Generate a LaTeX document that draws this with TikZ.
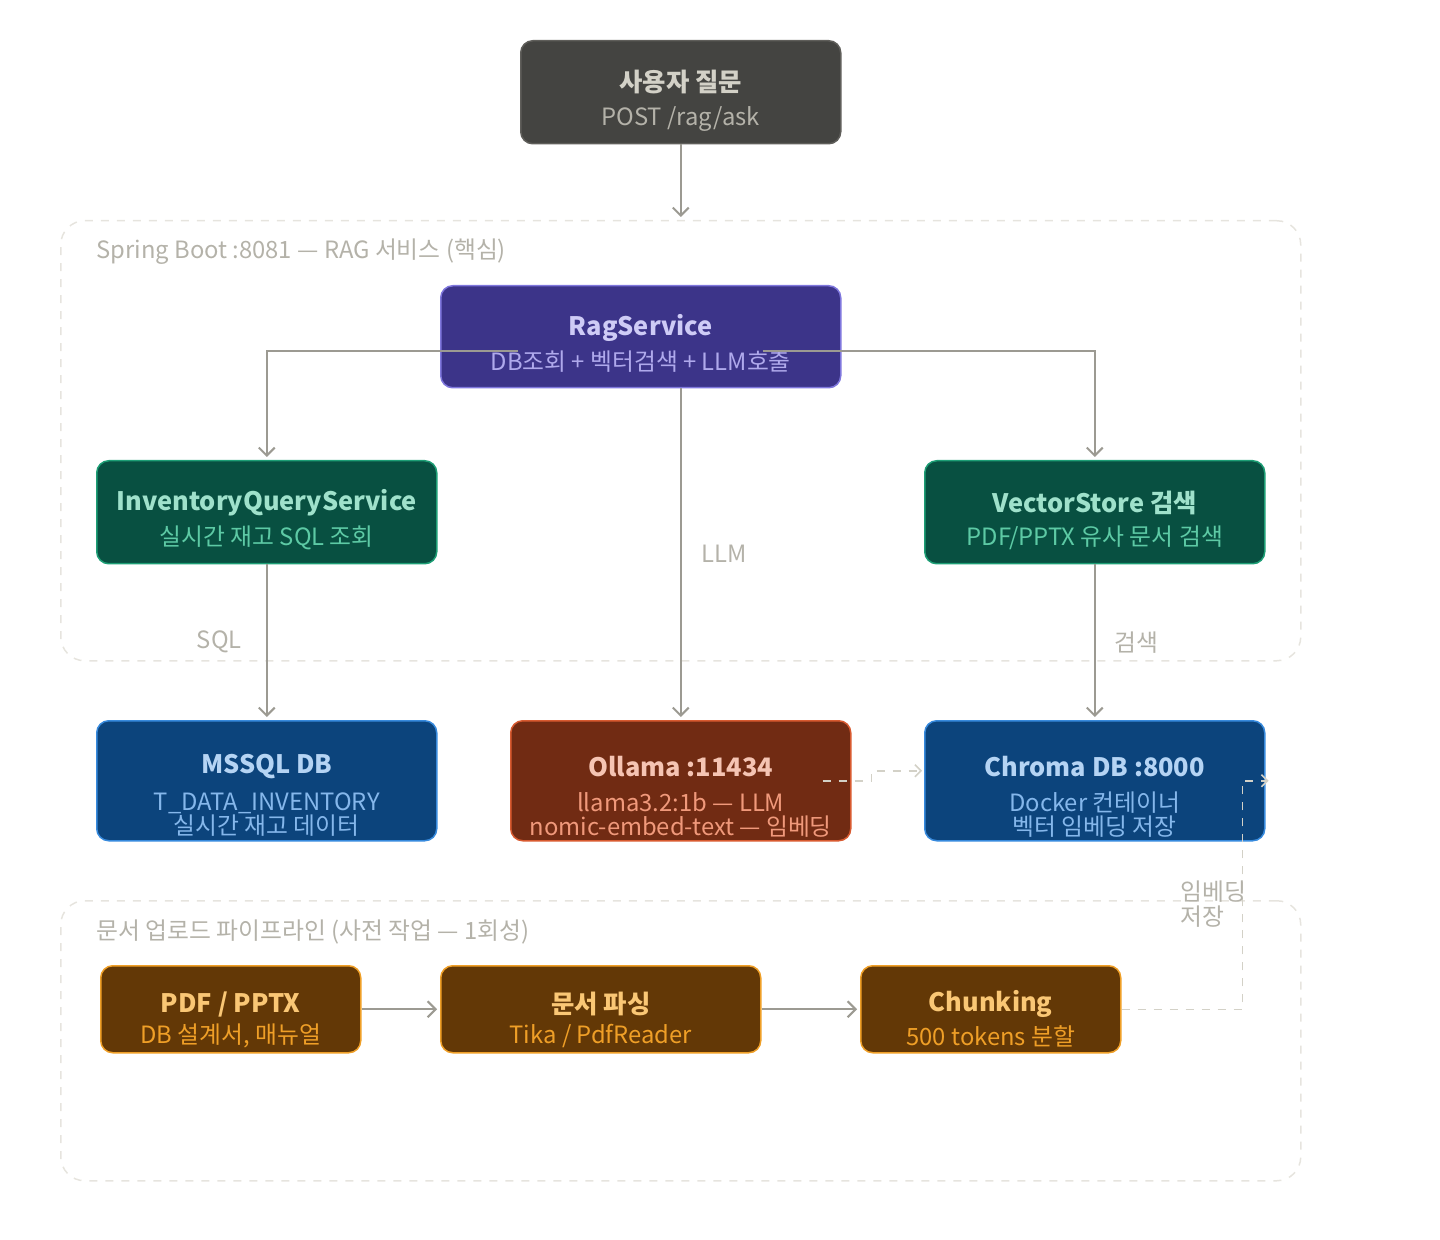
\documentclass[tikz,border=0pt]{standalone}
\usepackage{fontspec}
\setmainfont{Noto Sans CJK KR}
\usetikzlibrary{arrows.meta,calc}
\definecolor{userF}{HTML}{444441}
\definecolor{userD}{HTML}{5F5E5A}
\definecolor{userT}{HTML}{D3D1C7}
\definecolor{userS}{HTML}{B4B2A9}
\definecolor{ragF}{HTML}{3C3489}
\definecolor{ragD}{HTML}{7F77DD}
\definecolor{ragT}{HTML}{CECBF6}
\definecolor{ragS}{HTML}{AFA9EC}
\definecolor{grnF}{HTML}{085041}
\definecolor{grnD}{HTML}{1D9E75}
\definecolor{grnT}{HTML}{9FE1CB}
\definecolor{grnS}{HTML}{5DCAA5}
\definecolor{bluF}{HTML}{0C447C}
\definecolor{bluD}{HTML}{378ADD}
\definecolor{bluT}{HTML}{B5D4F4}
\definecolor{bluS}{HTML}{85B7EB}
\definecolor{redF}{HTML}{712B13}
\definecolor{redD}{HTML}{D85A30}
\definecolor{redT}{HTML}{F5C4B3}
\definecolor{redS}{HTML}{F0997B}
\definecolor{brnF}{HTML}{633806}
\definecolor{brnD}{HTML}{EF9F27}
\definecolor{brnT}{HTML}{FAC775}
\definecolor{brnS}{HTML}{EF9F27}
\definecolor{lineC}{HTML}{9C9A92}
\definecolor{lblC}{HTML}{B4B2A9}
\definecolor{contC}{HTML}{E6E4DE}
\definecolor{dashC}{HTML}{D3D1C7}
\begin{document}
\begin{tikzpicture}[x=0.5pt,y=-0.5pt,
  box/.style={draw, rounded corners=6pt, line width=0.75pt, anchor=north west, inner sep=0pt},
  cont/.style={draw=contC, dash pattern=on 4pt off 4pt, line width=0.75pt, rounded corners=12pt, anchor=north west, inner sep=0pt, minimum width=620pt},
  ttl/.style={font=\bfseries\fontsize{12.7}{15}\selectfont, inner sep=0pt, anchor=center},
  sub/.style={font=\fontsize{11.9}{12}\selectfont, inner sep=0pt, anchor=center, align=center},
  lbl/.style={font=\fontsize{11.9}{13}\selectfont, text=lblC, inner sep=0pt},
  conn/.style={draw=lineC, line width=1pt, -{Straight Barb[length=4pt,width=8pt]}, shorten >=1.5pt},
  dconn/.style={draw=dashC, line width=0.75pt, dash pattern=on 4pt off 4pt, -{Straight Barb[length=3pt,width=6pt]}}
]
\useasboundingbox (0,0) rectangle (1440,1240);

% containers
\node[cont, minimum height=220pt] (spring) at (60,220) {};
\node[lbl, anchor=west] (springL) at ($(spring.north west)+(36,32)$) {Spring Boot :8081 — RAG 서비스 (핵심)};
\node[cont, minimum height=140pt] (upload) at (60,900) {};
\node[lbl, anchor=west] (uploadL) at ($(upload.north west)+(36,32)$) {문서 업로드 파이프라인 (사전 작업 — 1회성)};

% boxes
\node[box, fill=userF, draw=userD, minimum width=160pt, minimum height=51.5pt] (user) at (520,40) {};
\node[ttl, text=userT] (userA) at ($(user.north)+(0,42)$) {사용자 질문};
\node[sub, text=userS] (userB) at ($(user.north)+(0,79)$) {POST /rag/ask};

\node[box, fill=ragF, draw=ragD, minimum width=200pt, minimum height=51pt] (rag) at (440,285) {};
\node[ttl, text=ragT] (ragA) at ($(rag.north)+(0,43)$) {RagService};
\node[sub, text=ragS] (ragB) at ($(rag.north)+(0,77)$) {DB조회 + 벡터검색 + LLM호출};

\node[box, fill=grnF, draw=grnD, minimum width=170pt, minimum height=51.5pt] (inv) at (96,460) {};
\node[ttl, text=grnT] (invA) at ($(inv.north)+(0,43)$) {InventoryQueryService};
\node[sub, text=grnS] (invB) at ($(inv.north)+(0,78)$) {실시간 재고 SQL 조회};

\node[box, fill=grnF, draw=grnD, minimum width=170pt, minimum height=51.5pt] (vec) at (924,460) {};
\node[ttl, text=grnT] (vecA) at ($(vec.north)+(0,43)$) {VectorStore 검색};
\node[sub, text=grnS] (vecB) at ($(vec.north)+(0,78)$) {PDF/PPTX 유사 문서 검색};

\node[box, fill=bluF, draw=bluD, minimum width=170pt, minimum height=60pt] (mssql) at (96,720) {};
\node[ttl, text=bluT] (mssqlA) at ($(mssql.north)+(0,47)$) {MSSQL DB};
\node[sub, text=bluS] (mssqlB) at ($(mssql.north)+(0,95)$) {T\_DATA\_INVENTORY\\실시간 재고 데이터};

\node[box, fill=redF, draw=redD, minimum width=170pt, minimum height=60pt] (ollama) at (510,720) {};
\node[ttl, text=redT] (ollamaA) at ($(ollama.north)+(0,47)$) {Ollama :11434};
\node[sub, text=redS] (ollamaB) at ($(ollama.north)+(0,95)$) {llama3.2:1b — LLM\\nomic-embed-text — 임베딩};

\node[box, fill=bluF, draw=bluD, minimum width=170pt, minimum height=60pt] (chroma) at (924,720) {};
\node[ttl, text=bluT] (chromaA) at ($(chroma.north)+(0,47)$) {Chroma DB :8000};
\node[sub, text=bluS] (chromaB) at ($(chroma.north)+(0,95)$) {Docker 컨테이너\\벡터 임베딩 저장};

\node[box, fill=brnF, draw=brnD, minimum width=130pt, minimum height=43.5pt] (pdf) at (100,965) {};
\node[ttl, text=brnT] (pdfA) at ($(pdf.north)+(0,39)$) {PDF / PPTX};
\node[sub, text=brnS] (pdfB) at ($(pdf.north)+(0,71)$) {DB 설계서, 매뉴얼};

\node[box, fill=brnF, draw=brnD, minimum width=160pt, minimum height=43.5pt] (parse) at (440,965) {};
\node[ttl, text=brnT] (parseA) at ($(parse.north)+(0,39)$) {문서 파싱};
\node[sub, text=brnS] (parseB) at ($(parse.north)+(0,71)$) {Tika / PdfReader};

\node[box, fill=brnF, draw=brnD, minimum width=130pt, minimum height=43.5pt] (chunk) at (860,965) {};
\node[ttl, text=brnT] (chunkA) at ($(chunk.north)+(0,39)$) {Chunking};
\node[sub, text=brnS] (chunkB) at ($(chunk.north)+(0,71)$) {500 tokens 분할};

% connectors
\draw[conn] (user.south) -- (spring.north);
\draw[conn] ($(rag.west)+(78,14)$) -| (inv.north);
\draw[conn] ($(rag.east)+(-79,14)$) -| (vec.north);
\draw[conn] (ollama.north |- rag.south) -- node[lbl, anchor=west, xshift=10pt] (llmL) {LLM} (ollama.north);
\draw[conn] (inv.south) -- node[lbl, anchor=east, xshift=-12pt] (sqlL) {SQL} (mssql.north);
\draw[conn] (vec.south) -- node[lbl, anchor=west, xshift=9.5pt] (srchL) {검색} (chroma.north);
\draw[conn] (pdf.east) -- (parse.west);
\draw[conn] (parse.east) -- (chunk.west);

\draw[dconn] ($(ollama.east)+(-29,0)$) -- ++(49,0) |- ($(chroma.west)+(-2,-10)$);
\draw[dconn] (chunk.east) -- ++(121,0) |- ($(chroma.east)+(3,0)$);
\node[lbl, anchor=west, align=left, font=\fontsize{11.9}{12.5}\selectfont] (embL) at (1180,904) {임베딩\\저장};
\end{tikzpicture}
\end{document}
